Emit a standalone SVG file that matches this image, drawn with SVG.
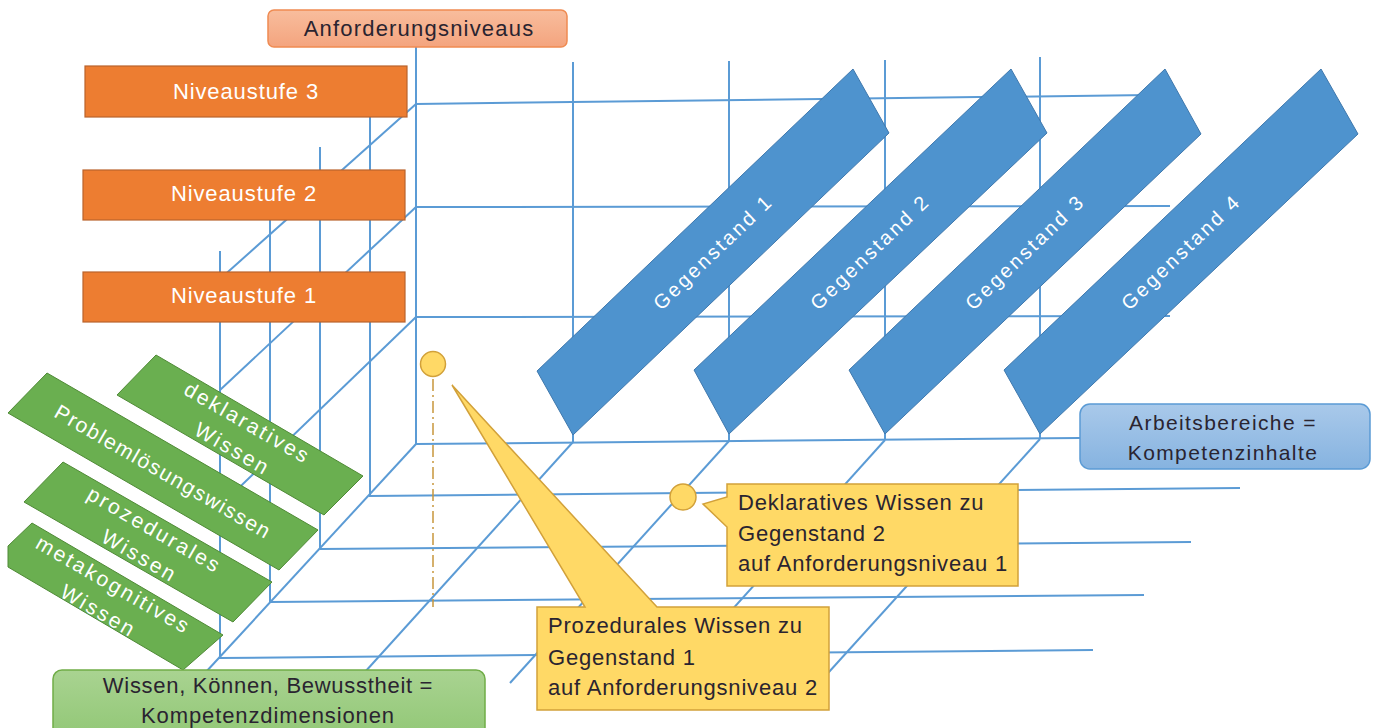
<svg xmlns="http://www.w3.org/2000/svg" width="1375" height="728" viewBox="0 0 1375 728">
<defs>
<style>
.grid line{stroke:#5b9bd5;stroke-width:2;fill:none}
.lab{font-family:"Liberation Sans",Arial,sans-serif}
.dark{fill:#2a2430}
.white{fill:#ffffff}
.niv{fill:#ed7d31;stroke:#b9632c;stroke-width:1.2}
.geg{fill:#4e93ce;stroke:#3f78ad;stroke-width:1}
.grn{fill:#6aaf50;stroke:#4f8a36;stroke-width:1}
.call{fill:#ffd966;stroke:#d2a13a;stroke-width:1.5}
.ct{font-size:22px;letter-spacing:0.8px}
.gt{font-size:20px;letter-spacing:2.6px}
.wt{font-size:21px;letter-spacing:2.5px}
</style>
<linearGradient id="gOr" x1="0" y1="0" x2="0" y2="1"><stop offset="0" stop-color="#f8bd9d"/><stop offset="1" stop-color="#f4a47e"/></linearGradient>
<linearGradient id="gGr" x1="0" y1="0" x2="0" y2="1"><stop offset="0" stop-color="#a9d391"/><stop offset="1" stop-color="#8fc673"/></linearGradient>
<linearGradient id="gBl" x1="0" y1="0" x2="0" y2="1"><stop offset="0" stop-color="#a9c9ea"/><stop offset="1" stop-color="#86b3e0"/></linearGradient>
</defs>
<rect width="1375" height="728" fill="#ffffff"/>

<g id="connectors" class="grid">
<line x1="416" y1="47" x2="416" y2="444"/>
<line x1="573" y1="62" x2="573" y2="442"/>
<line x1="729" y1="61" x2="729" y2="441"/>
<line x1="885" y1="60" x2="885" y2="440"/>
<line x1="1040" y1="57" x2="1040" y2="439"/>
<line x1="416" y1="104" x2="1150" y2="95"/>
<line x1="416" y1="207" x2="1170" y2="206"/>
<line x1="416" y1="317" x2="1170" y2="316"/>
<line x1="370" y1="102" x2="370" y2="496"/>
<line x1="320" y1="147" x2="320" y2="549"/>
<line x1="270" y1="198" x2="270" y2="602"/>
<line x1="220" y1="251" x2="220" y2="658"/>
<line x1="416" y1="104" x2="220" y2="279"/>
<line x1="416" y1="207" x2="220" y2="390"/>
<line x1="416" y1="317" x2="220" y2="506"/>
<line x1="416" y1="444" x2="1080" y2="438"/>
<line x1="369" y1="496" x2="1240" y2="488"/>
<line x1="320" y1="549" x2="1191" y2="542"/>
<line x1="270" y1="602" x2="1144" y2="595"/>
<line x1="219" y1="658" x2="1093" y2="650"/>
<line x1="416" y1="444" x2="205" y2="673"/>
<line x1="573" y1="442" x2="355" y2="683"/>
<line x1="729" y1="441" x2="510" y2="683"/>
<line x1="885" y1="440" x2="666" y2="683"/>
<line x1="1040" y1="439" x2="819" y2="683"/>
</g>

<g id="anforderungsniveaus">
<rect x="268" y="10" width="299" height="37" rx="6" fill="url(#gOr)" stroke="#ef8b52" stroke-width="1.5"/>
<text class="lab dark" x="419" y="36" font-size="22" letter-spacing="1.2" text-anchor="middle">Anforderungsniveaus</text>
</g>

<g id="niveaustufe3">
<rect class="niv" x="85" y="66" width="322" height="51"/>
<text class="lab white" x="246" y="99" font-size="22" letter-spacing="0.9" text-anchor="middle">Niveaustufe 3</text>
</g>
<g id="niveaustufe2">
<rect class="niv" x="83" y="170" width="322" height="50"/>
<text class="lab white" x="244" y="201" font-size="22" letter-spacing="0.9" text-anchor="middle">Niveaustufe 2</text>
</g>
<g id="niveaustufe1">
<rect class="niv" x="83" y="272" width="322" height="50"/>
<text class="lab white" x="244" y="303" font-size="22" letter-spacing="0.9" text-anchor="middle">Niveaustufe 1</text>
</g>

<g id="gegenstand1">
<polygon class="geg" points="853,69 889,133 573,435 537,371"/>
<text class="lab white gt" text-anchor="middle" transform="translate(713,252) rotate(-43.7)" y="7">Gegenstand 1</text>
</g>
<g id="gegenstand2">
<polygon class="geg" points="1011,69 1047,133 729,434 694,370"/>
<text class="lab white gt" text-anchor="middle" transform="translate(870,252) rotate(-43.7)" y="7">Gegenstand 2</text>
</g>
<g id="gegenstand3">
<polygon class="geg" points="1165,69 1201,134 885,434 849,370"/>
<text class="lab white gt" text-anchor="middle" transform="translate(1025,252) rotate(-43.7)" y="7">Gegenstand 3</text>
</g>
<g id="gegenstand4">
<polygon class="geg" points="1321,69 1358,134 1040,434 1004,370"/>
<text class="lab white gt" text-anchor="middle" transform="translate(1181,252) rotate(-43.7)" y="7">Gegenstand 4</text>
</g>

<g id="arbeitsbereiche">
<rect x="1080" y="404" width="290" height="65" rx="10" fill="url(#gBl)" stroke="#5b9bd5" stroke-width="1.5"/>
<text class="lab dark" x="1223" y="430" font-size="21" letter-spacing="1.4" text-anchor="middle">Arbeitsbereiche =</text>
<text class="lab dark" x="1223" y="460" font-size="21" letter-spacing="1.4" text-anchor="middle">Kompetenzinhalte</text>
</g>

<g id="deklaratives">
<polygon class="grn" points="156,355 363,476 324,515 117,395"/>
<g transform="translate(240,436) rotate(30)">
<text class="lab white wt" text-anchor="middle" y="-8">deklaratives</text>
<text class="lab white wt" text-anchor="middle" y="22">Wissen</text>
</g>
</g>
<g id="problemloesung">
<polygon class="grn" points="47,373 318,530 279,570 8,413"/>
<g transform="translate(163,472) rotate(30)">
<text class="lab white" font-size="21" letter-spacing="1.6" text-anchor="middle" y="7">Problemlösungswissen</text>
</g>
</g>
<g id="prozedurales">
<polygon class="grn" points="63,462 272,582 233,622 24,502"/>
<g transform="translate(147,543) rotate(30)">
<text class="lab white wt" text-anchor="middle" y="-8">prozedurales</text>
<text class="lab white wt" text-anchor="middle" y="22">Wissen</text>
</g>
</g>
<g id="metakognitives">
<polygon class="grn" points="32,523 223,635 183,670 8,567 8,546"/>
<g transform="translate(106,598) rotate(30)">
<text class="lab white wt" text-anchor="middle" y="-8">metakognitives</text>
<text class="lab white wt" text-anchor="middle" y="22">Wissen</text>
</g>
</g>

<g id="kompetenzdimensionen">
<rect x="53" y="670" width="432" height="75" rx="9" fill="url(#gGr)" stroke="#70ad47" stroke-width="1.5"/>
<text class="lab dark" x="268" y="693" font-size="22" letter-spacing="0.7" text-anchor="middle">Wissen, Können, Bewusstheit =</text>
<text class="lab dark" x="268" y="723" font-size="22" letter-spacing="0.9" text-anchor="middle">Kompetenzdimensionen</text>
</g>

<g id="marker1">
<line x1="433" y1="379" x2="433" y2="607" stroke="#c8963c" stroke-width="1.5" stroke-dasharray="12 4 2 4"/>
<circle class="call" cx="433" cy="364" r="12.5"/>
</g>
<g id="marker2">
<circle class="call" cx="683" cy="497" r="13"/>
</g>

<g id="callout-prozedural">
<path class="call" d="M537,607 L585,607 L452,385 L657,607 L829,607 L829,710 L537,710 Z"/>
<text class="lab dark ct" x="548" y="633">Prozedurales Wissen zu</text>
<text class="lab dark ct" x="548" y="665">Gegenstand 1</text>
<text class="lab dark ct" x="548" y="695">auf Anforderungsniveau 2</text>
</g>
<g id="callout-deklarativ">
<path class="call" d="M727,484 L1018,484 L1018,586 L727,586 L727,527 L703,504 L727,497 Z"/>
<text class="lab dark ct" x="738" y="510">Deklaratives Wissen zu</text>
<text class="lab dark ct" x="738" y="541">Gegenstand 2</text>
<text class="lab dark ct" x="738" y="571">auf Anforderungsniveau 1</text>
</g>
</svg>
